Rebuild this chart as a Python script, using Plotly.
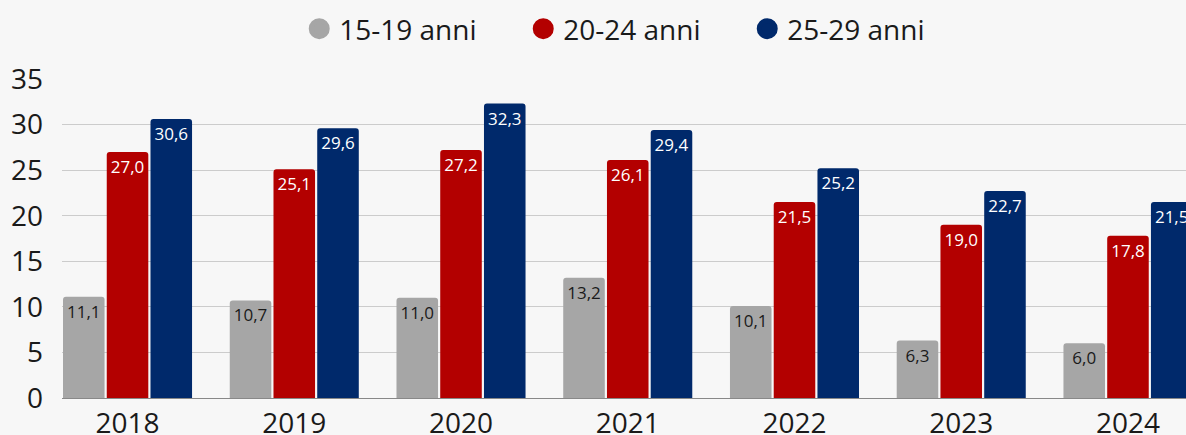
import plotly.graph_objects as go

years = ["2018", "2019", "2020", "2021", "2022", "2023", "2024"]
series_names = ["15-19 anni", "20-24 anni", "25-29 anni"]
v_15_19 = [11.1, 10.7, 11.0, 13.2, 10.1, 6.3, 6.0]
v_20_24 = [27.0, 25.1, 27.2, 26.1, 21.5, 19.0, 17.8]
v_25_29 = [30.6, 29.6, 32.3, 29.4, 25.2, 22.7, 21.5]
y_ticks = [0, 5, 10, 15, 20, 25, 30, 35]

colors = ["#a6a6a6", "#b30000", "#00296b"]
text_colors = ["#1a1a1a", "#ffffff", "#ffffff"]
FONT = "Open Sans"

fig = go.Figure()
for name, vals, c, tc in zip(series_names, [v_15_19, v_20_24, v_25_29], colors, text_colors):
    fig.add_trace(go.Bar(
        x=years, y=vals, name=name, showlegend=False,
        marker=dict(color=c, cornerradius=3, line=dict(width=0)),
        texttemplate="%{y:.1f}", textposition="inside", insidetextanchor="end",
        textfont=dict(color=tc, size=17, family=FONT), textangle=0,
        cliponaxis=True, hoverinfo="skip",
    ))
    fig.add_trace(go.Scatter(
        x=[None], y=[None], mode="markers", name=name,
        marker=dict(color=c, size=16, symbol="circle", line=dict(color=c, width=5)),
        showlegend=True,
    ))

fig.update_layout(
    width=1186, height=435,
    paper_bgcolor="#f7f7f7", plot_bgcolor="#f7f7f7",
    margin=dict(l=62, r=0, t=79, b=37),
    barmode="group", bargap=0.213, bargroupgap=0.05,
    separators=", ",
    font=dict(family=FONT, color="#1a1a1a", size=28),
    legend=dict(orientation="h", x=0.510, xanchor="center", y=1 - 29 / 435, yanchor="middle",
                yref="container", font=dict(size=28, family=FONT), entrywidth=179,
                itemsizing="trace", bgcolor="rgba(0,0,0,0)"),
    uniformtext=dict(minsize=15, mode="show"),
)
fig.update_xaxes(type="category", range=[-0.393, 6.348], showgrid=False,
                 showline=True, linecolor="#888888", linewidth=1, automargin=False,
                 ticks="", tickfont=dict(size=28, family=FONT, color="#1a1a1a"))
fig.update_yaxes(range=[0, 35], tickvals=y_ticks, showgrid=True, gridcolor="#cccccc",
                 gridwidth=1, zeroline=False, ticks="", ticklabelstandoff=18, automargin=False,
                 tickfont=dict(size=28, family=FONT, color="#1a1a1a"))

fig.write_html(
    "out.html",
    config={"displayModeBar": False},
    post_script="document.body.style.margin='0px';document.body.style.overflow='hidden';",
)
